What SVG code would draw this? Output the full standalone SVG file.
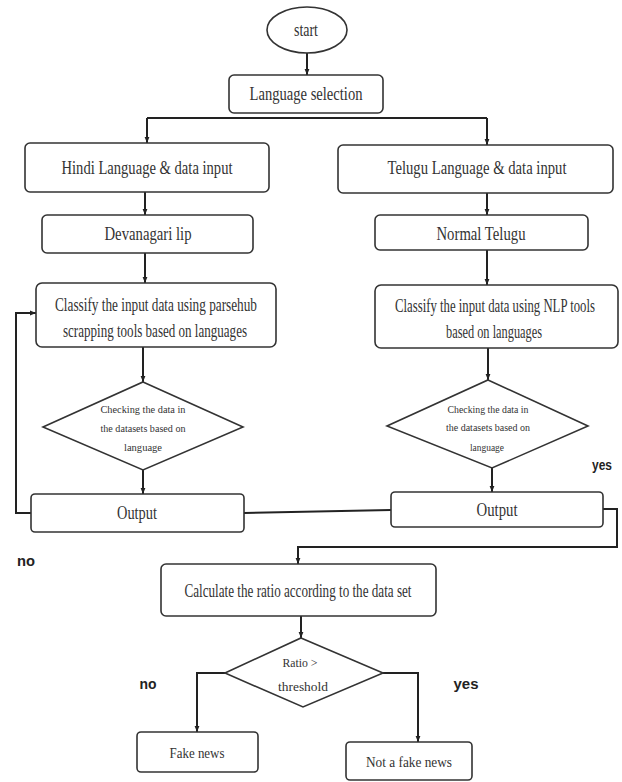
<svg xmlns="http://www.w3.org/2000/svg" width="622" height="782" viewBox="0 0 622 782">
<defs>
<marker id="arr" viewBox="0 0 10 10" refX="10" refY="5" markerWidth="6" markerHeight="6" markerUnits="userSpaceOnUse" orient="auto">
<path d="M0,1 L10,5 L0,9 z" fill="#222"/>
</marker>
<style>
.box{fill:#fff;stroke:#333;stroke-width:1.6}
.t{font-family:"Liberation Serif","Times New Roman",serif;font-size:18px;fill:#333;text-anchor:middle}
.s{font-family:"Liberation Serif","Times New Roman",serif;font-size:11px;fill:#333;text-anchor:middle}
.lbl{font-family:"Liberation Sans",Arial,sans-serif;font-size:15px;font-weight:bold;fill:#222;text-anchor:middle}
.c{fill:none;stroke:#222;stroke-width:2}
.ca{fill:none;stroke:#222;stroke-width:2;marker-end:url(#arr)}
</style>
</defs>
<rect width="622" height="782" fill="#fff"/>
<g id="connectors">
<path class="ca" d="M307,53 L307,75"/>
<path class="c" d="M147,118 L487,118"/>
<path class="ca" d="M147,118 L147,143"/>
<path class="ca" d="M487,118 L487,145"/>
<path class="ca" d="M145,192 L145,215"/>
<path class="ca" d="M145,253 L145,283"/>
<path class="ca" d="M143,347 L143,382"/>
<path class="ca" d="M143,470 L143,494"/>
<path class="ca" d="M487,193 L487,215"/>
<path class="ca" d="M487,250 L487,285"/>
<path class="ca" d="M488,348 L488,380"/>
<path class="ca" d="M492,468 L492,492"/>
<path class="ca" d="M31,513 L16,513 L16,313 L36,313"/>
<path class="c" d="M244,513 L391,510"/>
<path class="ca" d="M603,509 L617,509 L617,547 L298,547 L298,564"/>
<path class="ca" d="M301,616 L301,638"/>
<path class="ca" d="M225,673 L197,673 L197,732"/>
<path class="ca" d="M383,673 L418,673 L418,742"/>
</g>
<g id="start">
<ellipse cx="307" cy="30" rx="40" ry="23" class="box"/>
<text x="306" y="36" class="t" textLength="24" lengthAdjust="spacingAndGlyphs">start</text>
</g>
<g id="lang-select">
<rect x="229" y="75" width="154" height="38" rx="5" class="box"/>
<text x="306" y="100" class="t" textLength="113" lengthAdjust="spacingAndGlyphs">Language selection</text>
</g>
<g id="hindi">
<rect x="25" y="143" width="244" height="49" rx="5" class="box"/>
<text x="147" y="174" class="t" textLength="171" lengthAdjust="spacingAndGlyphs">Hindi Language &amp; data input</text>
</g>
<g id="devanagari">
<rect x="42" y="215" width="211" height="38" rx="5" class="box"/>
<text x="148" y="240" class="t" textLength="87" lengthAdjust="spacingAndGlyphs">Devanagari lip</text>
</g>
<g id="classify-hindi">
<rect x="36" y="283" width="240" height="64" rx="6" class="box"/>
<text x="156" y="311" class="t" textLength="202" lengthAdjust="spacingAndGlyphs">Classify the input data using parsehub</text>
<text x="155" y="337" class="t" textLength="184" lengthAdjust="spacingAndGlyphs">scrapping tools based on languages</text>
</g>
<g id="check-hindi">
<polygon points="143,382 243,427 143,470 43,427" class="box"/>
<text x="143" y="413" class="s" textLength="85" lengthAdjust="spacingAndGlyphs">Checking the data in</text>
<text x="143" y="432" class="s" textLength="85" lengthAdjust="spacingAndGlyphs">the datasets based on</text>
<text x="143" y="451" class="s" textLength="38" lengthAdjust="spacingAndGlyphs">language</text>
</g>
<g id="output-hindi">
<rect x="31" y="494" width="213" height="38" rx="4" class="box"/>
<text x="137" y="519" class="t" textLength="40" lengthAdjust="spacingAndGlyphs">Output</text>
</g>
<g id="telugu">
<rect x="338" y="145" width="275" height="48" rx="5" class="box"/>
<text x="477" y="174" class="t" textLength="179" lengthAdjust="spacingAndGlyphs">Telugu Language &amp; data input</text>
</g>
<g id="normal-telugu">
<rect x="375" y="215" width="213" height="35" rx="5" class="box"/>
<text x="481" y="240" class="t" textLength="89" lengthAdjust="spacingAndGlyphs">Normal Telugu</text>
</g>
<g id="classify-telugu">
<rect x="375" y="285" width="243" height="63" rx="6" class="box"/>
<text x="495" y="312" class="t" textLength="200" lengthAdjust="spacingAndGlyphs">Classify the input data using NLP tools</text>
<text x="494" y="338" class="t" textLength="96" lengthAdjust="spacingAndGlyphs">based on languages</text>
</g>
<g id="check-telugu">
<polygon points="488,380 588,426 492,468 387,426" class="box"/>
<text x="488" y="413" class="s" textLength="81" lengthAdjust="spacingAndGlyphs">Checking the data in</text>
<text x="488" y="431" class="s" textLength="84" lengthAdjust="spacingAndGlyphs">the datasets based on</text>
<text x="487" y="451" class="s" textLength="34" lengthAdjust="spacingAndGlyphs">language</text>
</g>
<g id="output-telugu">
<rect x="391" y="492" width="212" height="35" rx="4" class="box"/>
<text x="497" y="516" class="t" textLength="41" lengthAdjust="spacingAndGlyphs">Output</text>
</g>
<g id="calculate">
<rect x="161" y="564" width="275" height="52" rx="5" class="box"/>
<text x="298" y="597" class="t" textLength="227" lengthAdjust="spacingAndGlyphs">Calculate the ratio according to the data set</text>
</g>
<g id="ratio">
<polygon points="301,638 383,673 303,707 225,673" class="box"/>
<text x="300" y="667" class="s" style="font-size:13px" textLength="35" lengthAdjust="spacingAndGlyphs">Ratio &gt;</text>
<text x="303" y="691" class="s" style="font-size:13px" textLength="50" lengthAdjust="spacingAndGlyphs">threshold</text>
</g>
<g id="fake">
<rect x="137" y="732" width="121" height="40" rx="4" class="box"/>
<text x="197" y="758" class="t" style="font-size:15px" textLength="55" lengthAdjust="spacingAndGlyphs">Fake news</text>
</g>
<g id="not-fake">
<rect x="346" y="742" width="126" height="38" rx="4" class="box"/>
<text x="409" y="767" class="t" style="font-size:15px" textLength="86" lengthAdjust="spacingAndGlyphs">Not a fake news</text>
</g>
<g id="labels">
<text x="26" y="566" class="lbl" textLength="18" lengthAdjust="spacingAndGlyphs">no</text>
<text x="602" y="470" class="lbl" textLength="20" lengthAdjust="spacingAndGlyphs">yes</text>
<text x="148" y="689" class="lbl" textLength="17" lengthAdjust="spacingAndGlyphs">no</text>
<text x="466" y="689" class="lbl" textLength="25" lengthAdjust="spacingAndGlyphs">yes</text>
</g>
</svg>
